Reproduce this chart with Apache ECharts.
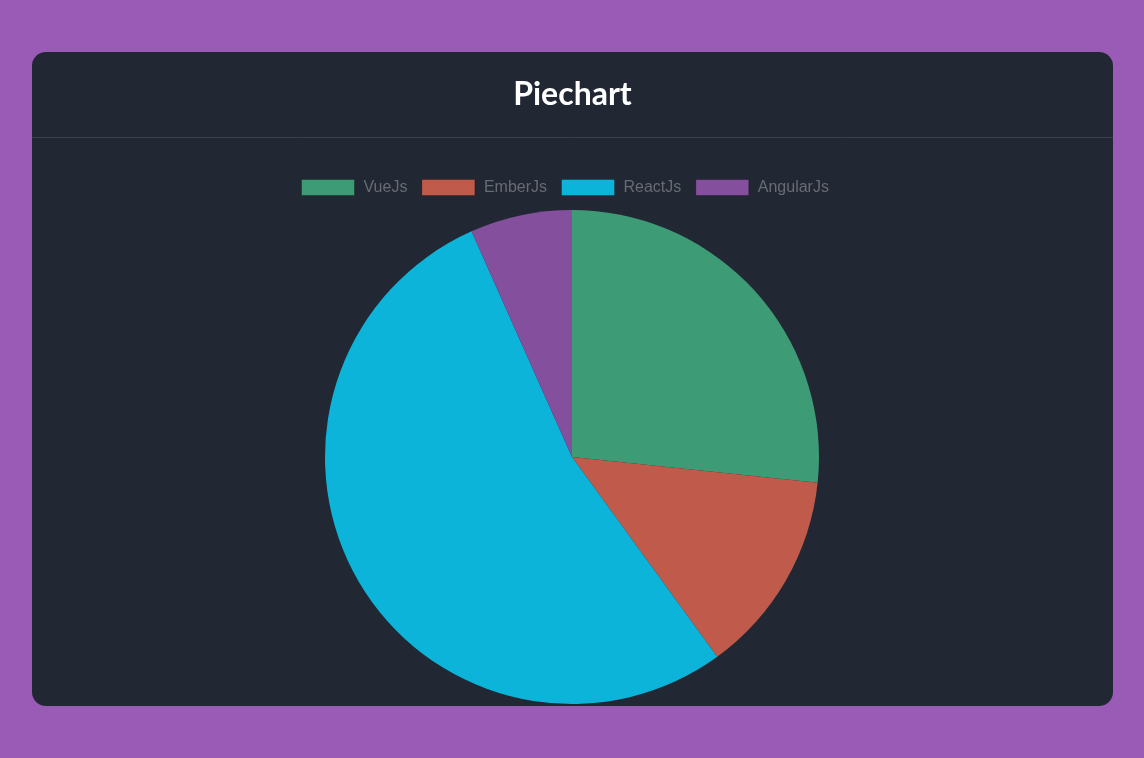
<!DOCTYPE html>
<html>
<head>
<meta charset="utf-8">
<script src="https://cdn.jsdelivr.net/npm/echarts@6/dist/echarts.min.js"></script>
<style>
html,body{margin:0;padding:0;width:1144px;height:758px;overflow:hidden;background:#9a5bb7;}
#card{position:absolute;left:32px;top:52px;width:1081px;height:654px;background:#212733;border-radius:14px;overflow:hidden;}
#chart{width:1081px;height:654px;}
</style>
</head>
<body>
<div id="card"><div id="chart"></div></div>
<script>
const title = "Piechart";
const categories = ["VueJs", "EmberJs", "ReactJs", "AngularJs"];
const values = [40, 20, 80, 10];
const colors = ["#3d9b75", "#c05b4b", "#0cb4d9", "#844f9c"];

const chart = echarts.init(document.getElementById('chart'), null, {renderer: 'canvas'});
chart.setOption({
  animation: false,
  title: {
    text: title,
    left: 'center',
    top: 22,
    textStyle: {color: '#ffffff', fontFamily: 'Lato', fontWeight: 'bold', fontSize: 32}
  },
  graphic: [{
    type: 'line',
    shape: {x1: 0, y1: 85.5, x2: 1081, y2: 85.5},
    style: {stroke: '#383e50', lineWidth: 1}
  }],
  legend: {
    top: 127,
    left: 269,
    padding: 0,
    itemWidth: 53,
    itemHeight: 16,
    itemGap: 14,
    icon: 'rect',
    data: categories,
    textStyle: {color: '#686b72', fontFamily: 'Liberation Sans', fontSize: 16, padding: [0, 0, 0, 4]},
    itemStyle: {borderWidth: 1, borderColor: 'rgba(0,0,0,0.25)'}
  },
  series: [{
    type: 'pie',
    center: [540, 405],
    radius: 247,
    startAngle: 90,
    clockwise: true,
    label: {show: false},
    labelLine: {show: false},
    emphasis: {disabled: true},
    itemStyle: {borderWidth: 0},
    data: categories.map((c, i) => ({name: c, value: values[i], itemStyle: {color: colors[i]}}))
  }]
});
</script>
</body>
</html>
